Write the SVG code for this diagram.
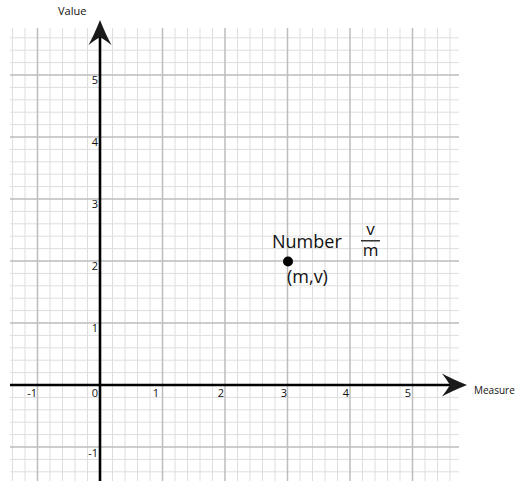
<svg xmlns="http://www.w3.org/2000/svg" width="516" height="481" viewBox="0 0 516 481">
<style>
.minor{stroke:#dedede;stroke-width:1;fill:none}
.major{stroke:#bdbdbd;stroke-width:1.5;fill:none}
.axis{stroke:#000;stroke-width:2.6;fill:none}
.head{fill:#1a1a1a}
.t{font-family:"Open Sans","Liberation Sans",sans-serif;fill:#111}
.tick{font-size:11px}
.big{font-size:18px}
</style>
<rect width="516" height="481" fill="#fff"/>
<g id="grid">
<path class="minor" d="M12.5 28V481M25 28V481M50 28V481M62.5 28V481M75 28V481M87.5 28V481M112.5 28V481M125 28V481M137.5 28V481M150 28V481M175 28V481M187.5 28V481M200 28V481M212.5 28V481M237.5 28V481M250 28V481M262.5 28V481M275 28V481M300 28V481M312.5 28V481M325 28V481M337.5 28V481M362.5 28V481M375 28V481M387.5 28V481M400 28V481M425 28V481M437.5 28V481M450 28V481"/>
<path class="minor" d="M10 37.8H459M10 50.2H459M10 62.6H459M10 87.4H459M10 99.8H459M10 112.2H459M10 124.6H459M10 149.4H459M10 161.8H459M10 174.2H459M10 186.6H459M10 211.4H459M10 223.8H459M10 236.2H459M10 248.6H459M10 273.4H459M10 285.8H459M10 298.2H459M10 310.6H459M10 335.4H459M10 347.8H459M10 360.2H459M10 372.6H459M10 397.4H459M10 409.8H459M10 422.2H459M10 434.6H459M10 459.4H459M10 471.8H459"/>
<path class="major" d="M37.5 28V481M162.5 28V481M225 28V481M287.5 28V481M350 28V481M412.5 28V481"/>
<path class="major" d="M10 75H459M10 137H459M10 199H459M10 261H459M10 323H459M10 447H459"/>
</g>
<g id="connectors">
<path class="axis" d="M10 385H452"/>
<path class="axis" d="M100 481V34"/>
<path class="head" d="M467 385 Q452 379 442 373.5 Q447 380 450 385 Q447 390 442 396.5 Q452 391 467 385Z"/>
<path class="head" d="M100 20 Q94 35 88.5 45 Q95 40 100 37 Q105 40 111.5 45 Q106 35 100 20Z"/>
</g>
<g id="axis-labels">
<text class="t tick" x="58" y="15">Value</text>
<text class="t" x="474" y="394" font-size="10">Measure</text>
</g>
<g id="ticks" class="t tick" text-anchor="end">
<text x="98" y="84">5</text>
<text x="98" y="146">4</text>
<text x="98" y="208">3</text>
<text x="98" y="270">2</text>
<text x="98" y="332">1</text>
<text x="98" y="457">-1</text>
<text x="37" y="397">-1</text>
<text x="98" y="397">0</text>
<text x="159" y="397">1</text>
<text x="224" y="397">2</text>
<text x="287" y="397">3</text>
<text x="349" y="397">4</text>
<text x="411" y="397">5</text>
</g>
<g id="point">
<circle cx="288" cy="261.5" r="5" fill="#000"/>
<text class="t big" x="272" y="248">Number</text>
<text class="t big" x="287" y="283">(m,v)</text>
</g>
<g id="fraction" class="t" text-anchor="middle" font-size="17">
<text x="370.5" y="235">v</text>
<path d="M361 240.8H380" stroke="#111" stroke-width="1.3"/>
<text x="370.5" y="256">m</text>
</g>
</svg>
